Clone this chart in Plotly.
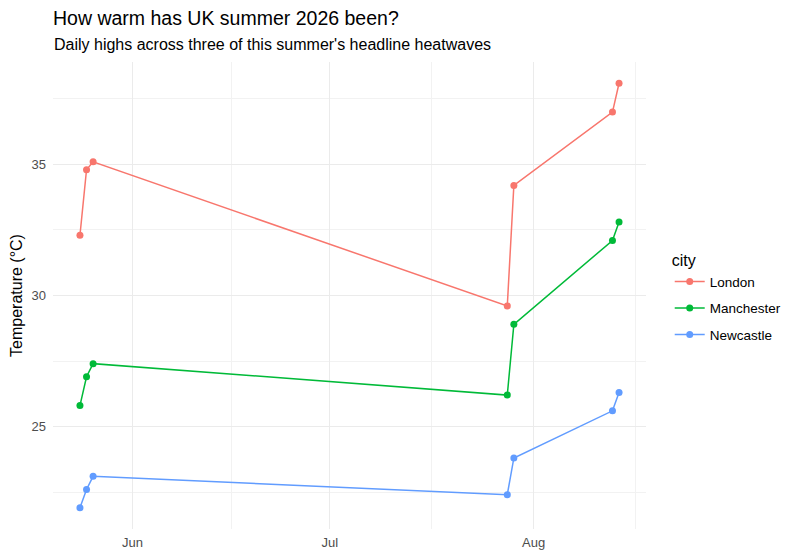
import plotly.graph_objects as go

# daily highs (°C) for the three heatwave spells
dates = ["2026-05-24", "2026-05-25", "2026-05-26",
         "2026-07-28", "2026-07-29",
         "2026-08-13", "2026-08-14"]
london = [32.3, 34.8, 35.1, 29.6, 34.2, 37.0, 38.1]
manchester = [25.8, 26.9, 27.4, 26.2, 28.9, 32.1, 32.8]
newcastle = [21.9, 22.6, 23.1, 22.4, 23.8, 25.6, 26.3]

cities = ["London", "Manchester", "Newcastle"]
temps = [london, manchester, newcastle]
colours = ["#F8766D", "#00BA38", "#619CFF"]

fig = go.Figure()
for name, vals, col in zip(cities, temps, colours):
    fig.add_trace(go.Scatter(
        x=dates, y=vals, name=name, mode="lines+markers",
        line=dict(color=col, width=1.5),
        marker=dict(color=col, size=7),
        legendgroup=name,
    ))

grid = "#EBEBEB"
tickfont = dict(family="Liberation Sans, Arial", size=13, color="#4D4D4D")

fig.update_layout(
    width=800, height=559,
    margin=dict(l=53, r=154, t=62, b=30, autoexpand=False),
    paper_bgcolor="white", plot_bgcolor="white",
    font=dict(family="Liberation Sans, Arial", color="black"),
    title=dict(text="How warm has UK summer 2026 been?",
               font=dict(size=19.5, color="black"),
               xref="paper", x=0, xanchor="left",
               yref="container", y=1 - 18 / 559, yanchor="middle"),
    annotations=[dict(text="Daily highs across three of this summer's headline heatwaves",
                      xref="paper", yref="paper", x=0, y=(529 - 45) / 467,
                      xanchor="left", yanchor="middle", showarrow=False,
                      xshift=-1, font=dict(size=16, color="black"))],
    xaxis=dict(
        type="date", automargin=False,
        range=["2026-05-19 21:36", "2026-08-18 02:24"],
        tickvals=["2026-06-01", "2026-07-01", "2026-08-01"],
        ticktext=["Jun", "Jul", "Aug"],
        showgrid=True, gridcolor=grid, gridwidth=1.1,
        minor=dict(tickvals=["2026-06-16", "2026-07-16 12:00", "2026-08-16 12:00"],
                   showgrid=True, gridcolor="#F2F2F2", gridwidth=0.8),
        zeroline=False, showline=False, ticks="",
        tickfont=tickfont, ticklabelstandoff=4,
    ),
    yaxis=dict(
        range=[21.09, 38.91], automargin=False,
        tickvals=[25, 30, 35],
        showgrid=True, gridcolor=grid, gridwidth=1.1,
        minor=dict(tickvals=[22.5, 27.5, 32.5, 37.5],
                   showgrid=True, gridcolor="#F2F2F2", gridwidth=0.8),
        zeroline=False, showline=False, ticks="",
        tickfont=tickfont, ticklabelstandoff=6,
        title=dict(text="Temperature (°C)", font=dict(size=16, color="black"),
                   standoff=4),
    ),
    legend=dict(
        title=dict(text="city", font=dict(size=16)),
        font=dict(size=13.5, color="black"),
        x=1.04, xanchor="left", y=0.495, yanchor="middle",
        itemwidth=30, tracegroupgap=6,
        bgcolor="rgba(0,0,0,0)",
    ),
    showlegend=True,
)

# drop the browser's default body margin so the figure sits at (0, 0)
fig.write_html("out.html", config={"displayModeBar": False},
               post_script="document.body.style.margin='0';")
